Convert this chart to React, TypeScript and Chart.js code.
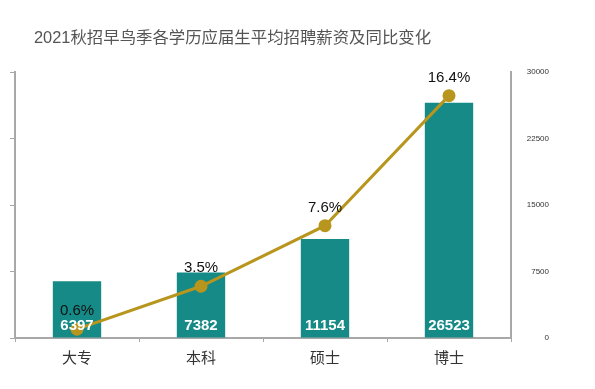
import React, { useEffect, useRef } from "react";
import { Chart, registerables } from "chart.js";

Chart.register(...registerables);

const title = "2021秋招早鸟季各学历应届生平均招聘薪资及同比变化";
const categories = ["大专", "本科", "硕士", "博士"];
const salaries = [6397, 7382, 11154, 26523];
const growth = [0.6, 3.5, 7.6, 16.4];
const growthLabels = ["0.6%", "3.5%", "7.6%", "16.4%"];
const rightTicks = [0, 7500, 15000, 22500, 30000];

const FONT = '"Liberation Sans", "Noto Sans CJK SC", sans-serif';
const BAR_COLOR = "#168A86";
const LINE_COLOR = "#B8961E";
const AXIS_COLOR = "#A8A8A8";

const labelPlugin = {
  id: "customLabels",
  afterDatasetsDraw(chart: any) {
    const ctx = chart.ctx;
    ctx.save();
    // title
    ctx.fillStyle = "#555555";
    ctx.font = `16.4px ${FONT}`;
    ctx.textAlign = "left";
    ctx.textBaseline = "middle";
    ctx.fillText(title, 34, 38);

    const barMeta = chart.getDatasetMeta(0);
    const lineMeta = chart.getDatasetMeta(1);
    ctx.textAlign = "center";
    // values inside bars
    ctx.fillStyle = "#ffffff";
    ctx.font = `bold 15px ${FONT}`;
    barMeta.data.forEach((bar: any, i: number) => {
      ctx.fillText(String(salaries[i]), bar.x, chart.chartArea.bottom - 12);
    });
    // percentage labels above points
    ctx.fillStyle = "#111111";
    ctx.font = `15px ${FONT}`;
    lineMeta.data.forEach((pt: any, i: number) => {
      ctx.fillText(growthLabels[i], pt.x, pt.y - 18);
    });
    ctx.restore();
  },
};

export default function App() {
  const ref = useRef<HTMLCanvasElement>(null);
  useEffect(() => {
    if (!ref.current) return;
    const chart = new Chart(ref.current, {
      type: "bar",
      data: {
        labels: categories,
        datasets: [
          {
            type: "bar",
            data: salaries,
            backgroundColor: BAR_COLOR,
            yAxisID: "yR",
            barPercentage: 0.39,
            categoryPercentage: 1,
            order: 1,
          } as any,
          {
            type: "line",
            data: growth,
            borderColor: LINE_COLOR,
            backgroundColor: LINE_COLOR,
            borderWidth: 3,
            pointRadius: 5,
            pointBackgroundColor: LINE_COLOR,
            pointBorderColor: LINE_COLOR,
            yAxisID: "yL",
            tension: 0,
            order: 0,
          } as any,
        ],
      },
      options: {
        responsive: false,
        animation: false,
        layout: { padding: { top: 72, left: 10, right: 46, bottom: 13 } },
        plugins: {
          legend: { display: false },
          tooltip: { enabled: false },
          title: { display: false },
        },
        scales: {
          x: {
            grid: {
              display: true,
              drawOnChartArea: false,
              drawTicks: true,
              tickLength: 4,
              color: AXIS_COLOR,
            },
            border: { display: true, color: AXIS_COLOR, width: 2 },
            ticks: {
              color: "#333333",
              font: { size: 15, family: FONT },
              padding: 8,
            },
          },
          yL: {
            position: "left",
            min: 0,
            max: 18,
            ticks: { display: false, stepSize: 4.5 },
            grid: {
              display: true,
              drawOnChartArea: false,
              drawTicks: true,
              tickLength: 5,
              color: AXIS_COLOR,
            },
            border: { display: true, color: AXIS_COLOR, width: 2 },
          },
          yR: {
            position: "right",
            min: 0,
            max: 30000,
            afterBuildTicks: (scale: any) => {
              scale.ticks = rightTicks.map((v) => ({ value: v }));
            },
            afterFit: (scale: any) => {
              scale.width = 38;
            },
            ticks: {
              color: "#333333",
              font: { size: 8, family: FONT },
              padding: 16,
              crossAlign: "far",
              callback: (v: any) => String(v),
            },
            grid: {
              display: true,
              drawOnChartArea: false,
              drawTicks: false,
              color: AXIS_COLOR,
            },
            border: { display: true, color: AXIS_COLOR, width: 2 },
          },
        },
      } as any,
      plugins: [labelPlugin],
    });
    return () => chart.destroy();
  }, []);
  return (
    <div style={{ position: "absolute", left: 0, top: 0, width: 595, height: 389, background: "#fff" }}>
      <canvas ref={ref} width={595} height={389} />
    </div>
  );
}
